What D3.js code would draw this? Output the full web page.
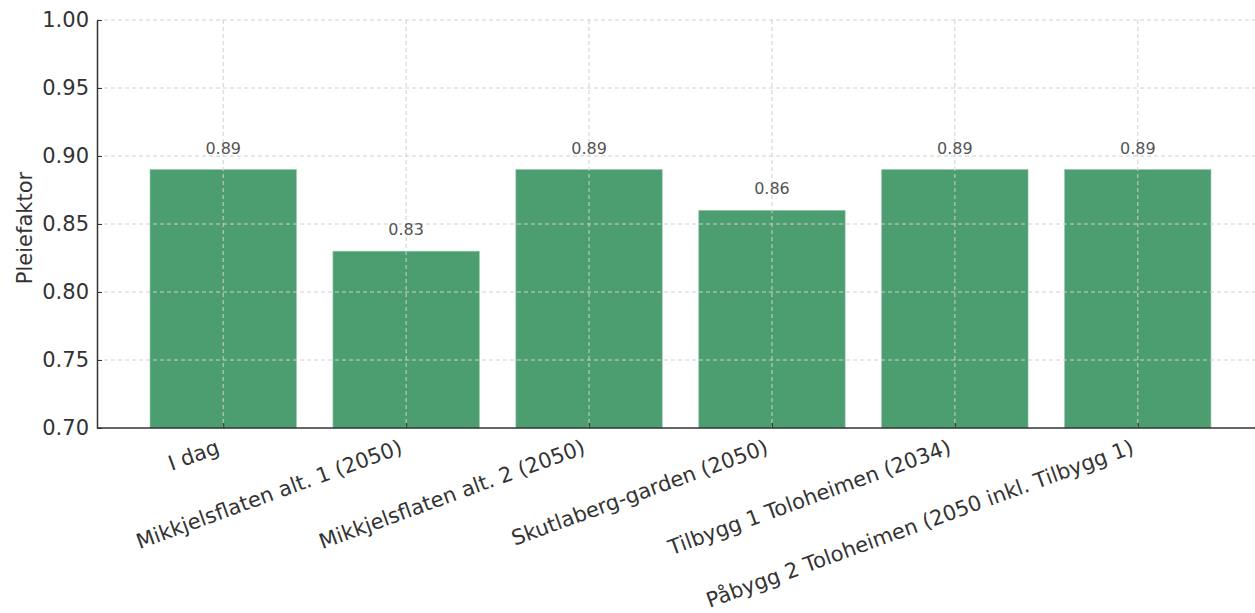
<!DOCTYPE html>
<html>
<head>
<meta charset="utf-8">
<script src="https://cdn.jsdelivr.net/npm/d3@7"></script>
<style>
  body { margin: 0; background: #fff; }
  svg text { font-family: "DejaVu Sans", "Verdana", sans-serif; }
</style>
</head>
<body>
<svg id="chart" width="1255" height="613"></svg>
<script>
// chart data
const categories = [
  "I dag",
  "Mikkjelsflaten alt. 1 (2050)",
  "Mikkjelsflaten alt. 2 (2050)",
  "Skutlaberg-garden (2050)",
  "Tilbygg 1 Toloheimen (2034)",
  "Påbygg 2 Toloheimen (2050 inkl. Tilbygg 1)"
];
const values = [0.89, 0.83, 0.89, 0.86, 0.89, 0.89];
const yTicks = [0.70, 0.75, 0.80, 0.85, 0.90, 0.95, 1.00];
const yLabel = "Pleiefaktor";

const svg = d3.select("#chart");
const plotLeft = 97, plotTop = 20, plotBottom = 428, plotRight = 1264;

// matplotlib-like x limits: bars 0.8 wide plus 5% margin
const x = d3.scaleLinear().domain([-0.69, 5.69]).range([plotLeft, plotRight]);
const y = d3.scaleLinear().domain([0.70, 1.00]).range([plotBottom, plotTop]);
const barW = 0.8;

// bars
svg.append("g").selectAll("rect")
  .data(values)
  .enter().append("rect")
  .attr("x", (d, i) => x(i - barW / 2))
  .attr("width", (d, i) => x(i + barW / 2) - x(i - barW / 2))
  .attr("y", (d) => y(d))
  .attr("height", (d) => y(0.70) - y(d))
  .style("fill", "#4c9e70")
  .style("stroke", "#8cc4a4")
  .style("stroke-width", 0.6);

// grid (drawn above the bars, like the original)
const grid = svg.append("g")
  .style("stroke", "#cfcfcf")
  .style("stroke-width", 1)
  .style("stroke-dasharray", "4,3");

grid.selectAll("line.h")
  .data(yTicks.filter((t) => t > 0.70))
  .enter().append("line")
  .attr("x1", plotLeft).attr("x2", 1255)
  .attr("y1", (d) => y(d)).attr("y2", (d) => y(d));

grid.selectAll("line.v")
  .data(categories)
  .enter().append("line")
  .attr("x1", (d, i) => x(i)).attr("x2", (d, i) => x(i))
  .attr("y1", plotTop).attr("y2", plotBottom);

// value labels
svg.append("g").selectAll("text")
  .data(values)
  .enter().append("text")
  .attr("x", (d, i) => x(i))
  .attr("y", (d) => y(d) - 16)
  .attr("text-anchor", "middle")
  .style("font-size", "16px")
  .style("fill", "#555")
  .text((d) => d.toFixed(2));

// y axis
const yAxis = svg.append("g")
  .attr("transform", "translate(" + plotLeft + ",0)")
  .call(d3.axisLeft(y).tickValues(yTicks).tickFormat(d3.format(".2f"))
    .tickSizeInner(-5).tickSizeOuter(0).tickPadding(8));
yAxis.select(".domain").style("stroke", "#333").style("stroke-width", 1.5);
yAxis.selectAll(".tick line").style("stroke", "#333");
yAxis.selectAll(".tick text")
  .style("font-size", "21px")
  .style("fill", "#333")
  .attr("x", -8);

// x axis
const xAxis = svg.append("g")
  .attr("transform", "translate(0," + plotBottom + ")")
  .call(d3.axisBottom(x).tickValues(d3.range(categories.length))
    .tickFormat((d) => categories[d]).tickSizeInner(-5).tickSizeOuter(0));
xAxis.select(".domain")
  .attr("d", "M" + plotLeft + ",0H1255")
  .style("stroke", "#333").style("stroke-width", 1.5);
xAxis.selectAll(".tick line").style("stroke", "#333");
xAxis.selectAll(".tick text")
  .attr("text-anchor", "end")
  .attr("dy", null)
  .attr("x", -3)
  .attr("y", 25)
  .attr("transform", "rotate(-20,-3,25)")
  .style("font-size", "21px")
  .style("fill", "#333");

// y label
svg.append("text")
  .attr("transform", "translate(32," + ((plotTop + plotBottom) / 2 + 4) + ") rotate(-90)")
  .attr("text-anchor", "middle")
  .style("font-size", "21px")
  .style("fill", "#333")
  .text(yLabel);
</script>
</body>
</html>
